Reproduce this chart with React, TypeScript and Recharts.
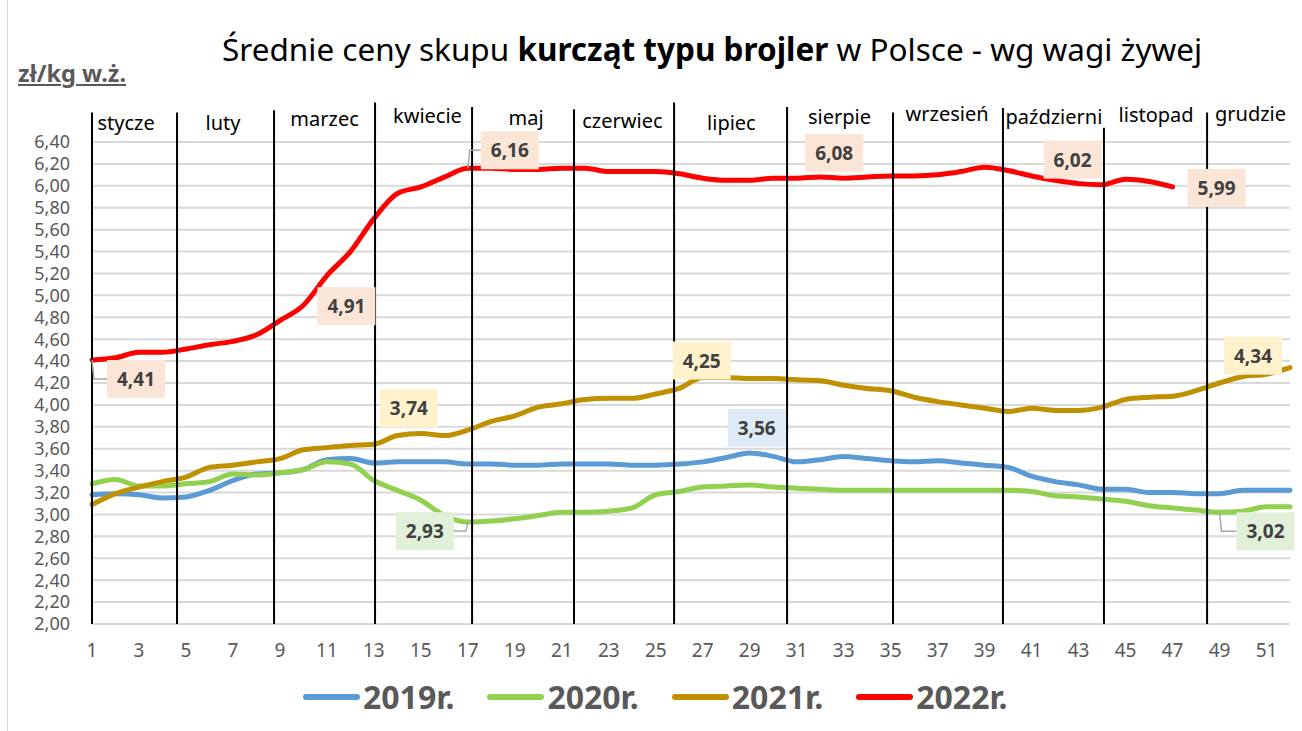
import React from 'react'
import {
  LineChart, Line, XAxis, YAxis, CartesianGrid, ReferenceLine, ReferenceDot,
} from 'recharts'

// Weekly broiler prices, zł/kg live weight
const prices2019 = [
  3.18, 3.19, 3.18, 3.15, 3.16, 3.22, 3.31, 3.37, 3.38, 3.41, 3.50, 3.51, 3.47,
  3.48, 3.48, 3.48, 3.46, 3.46, 3.45, 3.45, 3.46, 3.46, 3.46, 3.45, 3.45, 3.46,
  3.48, 3.52, 3.56, 3.53, 3.48, 3.50, 3.53, 3.51, 3.49, 3.48, 3.49, 3.47, 3.45,
  3.43, 3.35, 3.30, 3.27, 3.23, 3.23, 3.20, 3.20, 3.19, 3.19, 3.22, 3.22, 3.22,
]
const prices2020 = [
  3.28, 3.32, 3.26, 3.26, 3.28, 3.30, 3.37, 3.36, 3.38, 3.41, 3.48, 3.46, 3.31,
  3.22, 3.13, 2.99, 2.93, 2.94, 2.96, 2.99, 3.02, 3.02, 3.03, 3.06, 3.18, 3.21,
  3.25, 3.26, 3.27, 3.25, 3.24, 3.23, 3.22, 3.22, 3.22, 3.22, 3.22, 3.22, 3.22,
  3.22, 3.21, 3.17, 3.16, 3.14, 3.12, 3.08, 3.06, 3.04, 3.02, 3.03, 3.07, 3.07,
]
const prices2021 = [
  3.09, 3.19, 3.25, 3.30, 3.34, 3.43, 3.45, 3.48, 3.51, 3.59, 3.61, 3.63, 3.64,
  3.72, 3.74, 3.72, 3.77, 3.85, 3.90, 3.98, 4.01, 4.05, 4.06, 4.06, 4.10, 4.15,
  4.25, 4.25, 4.24, 4.24, 4.23, 4.22, 4.18, 4.15, 4.13, 4.07, 4.03, 4.00, 3.97,
  3.94, 3.97, 3.95, 3.95, 3.98, 4.05, 4.07, 4.08, 4.13, 4.20, 4.26, 4.28, 4.34,
]
const prices2022 = [
  4.41, 4.43, 4.48, 4.48, 4.51, 4.55, 4.58, 4.64, 4.77, 4.91, 5.18, 5.40, 5.70,
  5.93, 5.99, 6.08, 6.16, 6.16, 6.15, 6.15, 6.16, 6.16, 6.13, 6.13, 6.13, 6.11,
  6.07, 6.05, 6.05, 6.07, 6.07, 6.08, 6.07, 6.08, 6.09, 6.09, 6.10, 6.13, 6.17,
  6.14, 6.09, 6.05, 6.02, 6.01, 6.06, 6.04, 5.99,
]

const weeks = Array.from({ length: 52 }, (_, i) => i + 1)
const xTicks = weeks.filter(w => w % 2 === 1)
const yTicks = [2.0, 2.2, 2.4, 2.6, 2.8, 3.0, 3.2, 3.4, 3.6, 3.8, 4.0, 4.2, 4.4, 4.6, 4.8, 5.0, 5.2, 5.4, 5.6, 5.8, 6.0, 6.2, 6.4]

// month separators (week position) and month captions
const monthBreaks = [1.0, 4.62, 8.75, 13.05, 17.18, 21.52, 25.78, 30.59, 35.1, 39.78, 44.08, 48.47]
const monthBreakTops = [6.67, 6.67, 6.69, 6.76, 6.72, 6.70, 6.76, 6.72, 6.67, 6.71, 6.53, 6.67]
const monthNames = ['stycze', 'luty', 'marzec', 'kwiecie', 'maj', 'czerwiec', 'lipiec', 'sierpie', 'wrzesień', 'październi', 'listopad', 'grudzie']
const monthLabelWeeks = [2.45, 6.58, 10.9, 15.28, 19.48, 23.58, 28.22, 32.82, 37.4, 41.95, 46.3, 50.32]
const monthLabelLevels = [6.58, 6.58, 6.61, 6.64, 6.62, 6.6, 6.58, 6.63, 6.66, 6.63, 6.65, 6.66]

const SERIES = [
  { key: 'y2019', name: '2019r.', color: '#5B9BD5', box: '#DEEBF7', values: prices2019 },
  { key: 'y2020', name: '2020r.', color: '#92D050', box: '#E2F0D9', values: prices2020 },
  { key: 'y2021', name: '2021r.', color: '#BF9000', box: '#FFF2CC', values: prices2021 },
  { key: 'y2022', name: '2022r.', color: '#FF0000', box: '#FBE5D6', values: prices2022 },
]

// data callouts: which series/week, box offset from the point, leader side
const callouts = [
  { series: 3, week: 1, dx: 44, dy: 19, leader: 'left' },
  { series: 3, week: 10, dx: 43, dy: 1 },
  { series: 3, week: 17, dx: 42, dy: -18, leader: 'left' },
  { series: 3, week: 32, dx: 14, dy: -24 },
  { series: 3, week: 43, dx: -6, dy: -24 },
  { series: 3, week: 47, dx: 44, dy: 1 },
  { series: 2, week: 15, dx: -12, dy: -25 },
  { series: 2, week: 27, dx: -1, dy: -17 },
  { series: 2, week: 52, dx: -37, dy: -12 },
  { series: 0, week: 29, dx: 7, dy: -25 },
  { series: 1, week: 17, dx: -43, dy: 9, leader: 'right' },
  { series: 1, week: 49, dx: 46, dy: 19, leader: 'left' },
]

const data = weeks.map((w, i) => ({
  week: w,
  y2019: prices2019[i],
  y2020: prices2020[i],
  y2021: prices2021[i],
  y2022: prices2022[i] ?? null,
}))

const FONT = '"Noto Sans", "Open Sans", sans-serif'
const fmt = (v: number) => v.toFixed(2).replace('.', ',')

function Callout({ cx, cy, dx, dy, fill, text, leader }: any) {
  const bx = cx + dx
  const by = cy + dy
  const w = 58
  const h = 38
  let path = ''
  if (leader === 'left') path = `M${cx},${cy} L${cx + 2},${by} L${bx - w / 2},${by}`
  if (leader === 'right') path = `M${cx},${cy} L${cx - 2},${by} L${bx + w / 2},${by}`
  return (
    <g>
      {path && <path d={path} fill="none" stroke="#A6A6A6" strokeWidth={1.5} />}
      <rect x={bx - w / 2} y={by - h / 2} width={w} height={h} fill={fill} />
      <text
        x={bx} y={by} textAnchor="middle" dominantBaseline="central"
        fontFamily={FONT} fontWeight={700} fontSize={19} fill="#404040"
      >
        {text}
      </text>
    </g>
  )
}

function MonthLabel({ cx, cy, text }: any) {
  return (
    <text
      x={cx} y={cy} textAnchor="middle" dominantBaseline="central"
      fontFamily={FONT} fontSize={20} fill="#000"
    >
      {text}
    </text>
  )
}

export default function App() {
  return (
    <div style={{ position: 'absolute', left: 0, top: 0, width: 1302, height: 731, background: '#fff', overflow: 'hidden' }}>
      <div style={{ position: 'absolute', left: 7, top: 0, width: 1, height: 731, background: '#D9D9D9' }} />

      <div style={{
        position: 'absolute', left: 222, top: 33, fontFamily: FONT, fontSize: 31.5,
        lineHeight: 1, whiteSpace: 'nowrap', color: '#000',
      }}>
        Średnie ceny skupu <b>kurcząt typu brojler</b> w Polsce - wg wagi żywej
      </div>

      <div style={{
        position: 'absolute', left: 18, top: 62, fontFamily: FONT, fontSize: 23.5, fontWeight: 700,
        lineHeight: 1, color: '#595959', textDecoration: 'underline', whiteSpace: 'nowrap',
      }}>
        zł/kg w.ż.
      </div>

      <div style={{ position: 'absolute', left: 0, top: 0 }}>
        <LineChart width={1302} height={731} data={data} margin={{ top: 142, right: 12, bottom: 77, left: 0 }}>
          <CartesianGrid horizontal vertical={false} stroke="#D9D9D9" strokeWidth={2} />
          <XAxis
            dataKey="week" type="number" domain={[1, 52]} ticks={xTicks} interval={0}
            axisLine={false} tickLine={false} tickSize={8} tickMargin={12} height={30}
            tick={{ fontFamily: FONT, fontSize: 19, fill: '#595959' }}
          />
          <YAxis
            type="number" domain={[2, 6.4]} ticks={yTicks} interval={0} width={92}
            axisLine={false} tickLine={false} tickSize={6} tickMargin={16}
            tickFormatter={fmt}
            tick={{ fontFamily: FONT, fontSize: 18, fill: '#595959' }}
          />
          {SERIES.map(s => (
            <Line
              key={s.key} dataKey={s.key} name={s.name} type="monotone" stroke={s.color}
              strokeWidth={5} dot={false} activeDot={false} connectNulls={false}
              isAnimationActive={false} strokeLinecap="round"
            />
          ))}
          {monthBreaks.map((w, i) => (
            <ReferenceLine
              key={'mb' + i}
              segment={[{ x: w, y: 2.0 }, { x: w, y: monthBreakTops[i] }]}
              stroke="#000" strokeWidth={2} ifOverflow="visible"
            />
          ))}
          {monthNames.map((m, i) => (
            <ReferenceDot
              key={'ml' + i} x={monthLabelWeeks[i]} y={monthLabelLevels[i]} r={0}
              ifOverflow="visible"
              shape={(p: any) => <MonthLabel cx={p.cx} cy={p.cy} text={m} />}
            />
          ))}
          {callouts.map((c, i) => {
            const s = SERIES[c.series]
            const v = s.values[c.week - 1]
            return (
              <ReferenceDot
                key={'co' + i} x={c.week} y={v} r={0} ifOverflow="visible"
                shape={(p: any) => (
                  <Callout cx={p.cx} cy={p.cy} dx={c.dx} dy={c.dy} fill={s.box} text={fmt(v)} leader={c.leader} />
                )}
              />
            )
          })}
        </LineChart>
      </div>

      <div style={{ position: 'absolute', left: 303, top: 676, display: 'flex', alignItems: 'center', whiteSpace: 'nowrap' }}>
        {SERIES.map(s => (
          <div key={s.key} style={{ display: 'flex', alignItems: 'center', marginRight: 33 }}>
            <div style={{ width: 57, height: 6, borderRadius: 3, background: s.color, marginRight: 3 }} />
            <span style={{ fontFamily: FONT, fontSize: 32, fontWeight: 700, color: '#595959', lineHeight: 1.3 }}>{s.name}</span>
          </div>
        ))}
      </div>
    </div>
  )
}
